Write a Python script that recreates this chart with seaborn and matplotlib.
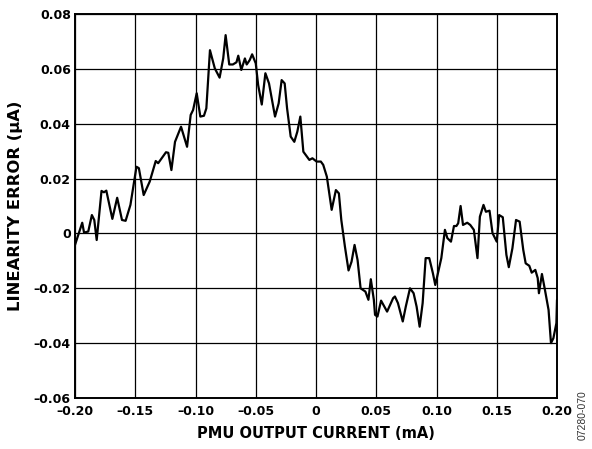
import matplotlib
matplotlib.use("Agg")
import matplotlib.pyplot as plt
import seaborn as sns
import pandas as pd

# PMU output current (mA)
current_ma = [
    -0.200, -0.194, -0.1925, -0.189, -0.186, -0.184, -0.182, -0.178, -0.176, -0.174,
    -0.169, -0.165, -0.161, -0.158, -0.154, -0.149, -0.147, -0.143, -0.138, -0.133,
    -0.131, -0.1245, -0.1226, -0.120, -0.117, -0.112, -0.107, -0.104, -0.102, -0.099,
    -0.096, -0.093, -0.091, -0.088, -0.084, -0.080, -0.077, -0.075, -0.072, -0.069,
    -0.066, -0.0645, -0.062, -0.059, -0.0575, -0.055, -0.053, -0.050, -0.048, -0.045,
    -0.042, -0.039, -0.037, -0.034, -0.031, -0.0285, -0.026, -0.024, -0.021, -0.018,
    -0.0155, -0.013, -0.0105, -0.008, -0.0055, -0.003, 0.0005, 0.004, 0.006, 0.009,
    0.011, 0.013, 0.0165, 0.019, 0.021, 0.024, 0.027, 0.0295, 0.032, 0.0345,
    0.037, 0.041, 0.0435, 0.0455, 0.048, 0.049, 0.051, 0.054, 0.059, 0.064,
    0.0655, 0.068, 0.072, 0.0745, 0.078, 0.081, 0.0835, 0.086, 0.0885, 0.091,
    0.094, 0.097, 0.099, 0.1015, 0.104, 0.107, 0.109, 0.112, 0.1145, 0.1165,
    0.118, 0.120, 0.122, 0.1255, 0.128, 0.131, 0.134, 0.136, 0.139, 0.141,
    0.144, 0.1465, 0.150, 0.152, 0.155, 0.158, 0.160, 0.163, 0.166, 0.169,
    0.172, 0.174, 0.177, 0.179, 0.182, 0.184, 0.185, 0.1875, 0.190, 0.193,
    0.195, 0.197, 0.1995, 0.200,
]

# Linearity error (uA)
linearity_error_ua = [
    -0.0042, 0.0039, 0.0003, 0.0007, 0.0067, 0.0049, -0.0024, 0.0155, 0.0150, 0.0156,
    0.0053, 0.0130, 0.0049, 0.0046, 0.0104, 0.0243, 0.0238, 0.0140, 0.0189, 0.0264,
    0.0256, 0.0296, 0.0294, 0.0231, 0.0334, 0.0389, 0.0316, 0.0432, 0.0450, 0.0511,
    0.0426, 0.0429, 0.0456, 0.0668, 0.0602, 0.0568, 0.0638, 0.0723, 0.0616, 0.0616,
    0.0624, 0.0648, 0.0596, 0.0638, 0.0616, 0.0632, 0.0653, 0.0620, 0.0541, 0.0470,
    0.0584, 0.0547, 0.0498, 0.0426, 0.0474, 0.0559, 0.0547, 0.0456, 0.0353, 0.0334,
    0.0371, 0.0426, 0.0298, 0.0283, 0.0268, 0.0274, 0.0262, 0.0262, 0.0250, 0.0207,
    0.0146, 0.0086, 0.0158, 0.0146, 0.0049, -0.0048, -0.0135, -0.0103, -0.0042, -0.0097,
    -0.0200, -0.0212, -0.0242, -0.0167, -0.0242, -0.0297, -0.0303, -0.0245, -0.0285, -0.0236,
    -0.0230, -0.0254, -0.0321, -0.0267, -0.0200, -0.0218, -0.0267, -0.0340, -0.0254, -0.0090,
    -0.0090, -0.0145, -0.0188, -0.0139, -0.0090, 0.0013, -0.0017, -0.0030, 0.0027, 0.0027,
    0.0037, 0.0100, 0.0031, 0.0039, 0.0031, 0.0013, -0.0090, 0.0061, 0.0104, 0.0079,
    0.0083, 0.0001, -0.0030, 0.0067, 0.0059, -0.0078, -0.0123, -0.0054, 0.0049, 0.0043,
    -0.0060, -0.0109, -0.0118, -0.0143, -0.0133, -0.0163, -0.0218, -0.0148, -0.0206, -0.0279,
    -0.0400, -0.0382, -0.0327, -0.0242,
]

x_ticks = [-0.20, -0.15, -0.10, -0.05, 0.0, 0.05, 0.10, 0.15, 0.20]
x_tick_labels = ["\u20130.20", "\u20130.15", "\u20130.10", "\u20130.05", "0",
                 "0.05", "0.10", "0.15", "0.20"]
y_ticks = [-0.06, -0.04, -0.02, 0.0, 0.02, 0.04, 0.06, 0.08]
y_tick_labels = ["\u20130.06", "\u20130.04", "\u20130.02", "0",
                 "0.02", "0.04", "0.06", "0.08"]

sns.set_theme(style="white")
plt.rcParams["font.family"] = ["DejaVu Sans"]

df = pd.DataFrame({"current": current_ma, "error": linearity_error_ua})

fig = plt.figure(figsize=(5.92, 4.49), dpi=100)
ax = fig.add_axes([75 / 592, 51 / 449, 482 / 592, 384 / 449])

sns.lineplot(data=df, x="current", y="error", estimator=None, sort=False,
             color="black", linewidth=1.6, ax=ax)

ax.set_xlim(-0.20, 0.20)
ax.set_ylim(-0.06, 0.08)
ax.set_xticks(x_ticks)
ax.set_xticklabels(x_tick_labels, fontsize=9, fontweight="bold")
ax.set_yticks(y_ticks)
ax.set_yticklabels(y_tick_labels, fontsize=9, fontweight="bold")
ax.tick_params(axis="x", length=0, pad=5, colors="black")
ax.tick_params(axis="y", length=0, pad=3, colors="black")

ax.grid(True, color="black", linewidth=0.9)
for spine in ax.spines.values():
    spine.set_visible(True)
    spine.set_color("black")
    spine.set_linewidth(1.4)

ax.set_xlabel("PMU OUTPUT CURRENT (mA)", fontsize=10.5, fontweight="bold",
              color="black", labelpad=6)
ax.set_ylabel("LINEARITY ERROR (\u00b5A)", fontsize=11.8, fontweight="bold",
              color="black", labelpad=8)

fig.text(583 / 592, 1 - 415 / 449, "07280-070", rotation=90, fontsize=7.5,
         family=["Liberation Sans", "DejaVu Sans"],
         color="#333333", ha="center", va="center")

fig.savefig("out.png", dpi=100)
